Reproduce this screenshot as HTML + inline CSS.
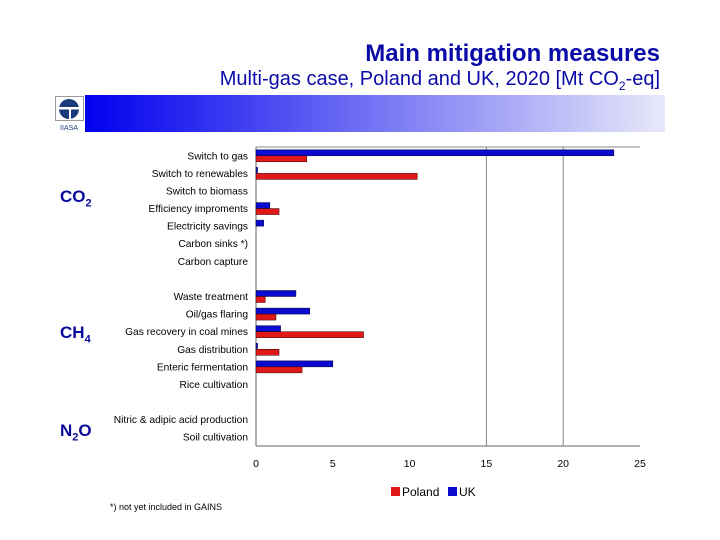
<!DOCTYPE html>
<html><head><meta charset="utf-8"><style>
body{margin:0;background:#fff;width:720px;height:540px;position:relative;overflow:hidden;font-family:"Liberation Sans",sans-serif}
.abs{position:absolute}
.grp{font-size:17px;font-weight:bold;color:#0a0a9a}
</style></head><body>
<div class="abs" style="right:60px;top:40px;font-size:24px;font-weight:bold;color:#0a0aa8;">Main mitigation measures</div>
<div class="abs" style="right:60px;top:68px;font-size:20px;color:#0a0aa8;">Multi-gas case, Poland and UK, 2020 [Mt CO<sub style="font-size:12px">2</sub>-eq]</div>
<div class="abs" style="left:85px;top:95px;width:580px;height:37px;background:linear-gradient(to right,#0000ee,#e8e8fa)"></div>
<div class="abs" style="left:55px;top:96px;width:29px;height:36px;">
<svg width="29" height="36"><rect x="0.5" y="0.5" width="28" height="24" fill="#fff" stroke="#999"/><circle cx="14" cy="13" r="10" fill="#1a3a7a"/><rect x="3" y="11" width="22" height="2.5" fill="#fff"/><rect x="14" y="13" width="2" height="11" fill="#fff"/><text x="14" y="34" font-size="7" text-anchor="middle" fill="#1a3a7a" font-family="Liberation Sans">IIASA</text></svg></div>
<div class="abs grp" style="left:60px;top:187px;">CO<sub style="font-size:11px">2</sub></div>
<div class="abs grp" style="left:60px;top:323px;">CH<sub style="font-size:11px">4</sub></div>
<div class="abs grp" style="left:60px;top:421px;">N<sub style="font-size:11px">2</sub>O</div>
<div class="abs" style="left:110px;top:502px;font-size:9px">*) not yet included in GAINS</div>
<svg id="chart" class="abs" style="left:0;top:0" width="720" height="540"></svg>
<script>
const categories=["Switch to gas","Switch to renewables","Switch to biomass","Efficiency impr oments","Electricity savings","Carbon sinks *)","Carbon capture","","Waste treatment","Oil/gas flaring","Gas recovery in coal mines","Gas distribution","Enteric fermentation","Rice cultivation","","Nitric & adipic acid production","Soil cultivation"];
const ukValues=[23.3,0.1,0,0.9,0.5,0,0,0,2.6,3.5,1.6,0.1,5.0,0,0,0,0];
const polandValues=[3.3,10.5,0,1.5,0,0,0,0,0.6,1.3,7.0,1.5,3.0,0,0,0,0];
const xTicks=[0,5,10,15,20,25];
const gridTicks=[15,20];
const svg=document.getElementById('chart');const NS='http://www.w3.org/2000/svg';
const X0=256,X1=640,Y0=147,Y1=446,XMAX=25;
const sx=v=>X0+v/XMAX*(X1-X0);
const slot=(Y1-Y0)/categories.length;
const sy=i=>Y0+slot*(i+0.5);
function mk(t,a){const e=document.createElementNS(NS,t);for(const k in a)e.setAttribute(k,a[k]);svg.appendChild(e);return e;}
let e;
e=mk('line',{x1:X0,y1:Y0,x2:X1,y2:Y0,stroke:'#888','stroke-width':1});

gridTicks.forEach(t=>{e=mk('line',{x1:sx(t),y1:Y0,x2:sx(t),y2:Y1,stroke:'#888','stroke-width':1});
});
e=mk('line',{x1:X0,y1:Y0,x2:X0,y2:Y1,stroke:'#666','stroke-width':1});

e=mk('line',{x1:X0,y1:Y1,x2:X1,y2:Y1,stroke:'#666','stroke-width':1});

xTicks.forEach(t=>{e=mk('text',{x:sx(t),y:Y1+21,'font-size':10.5,'text-anchor':'middle','font-family':'Liberation Sans'});e.textContent=t;
});
categories.forEach((c,i)=>{
 if(c){e=mk('text',{x:X0-8,y:sy(i)+3.5,'font-size':10.2,'text-anchor':'end','font-family':'Liberation Sans'});e.textContent=c.replace('impr oments','improments');
 }
 if(ukValues[i]>0){e=mk('rect',{x:X0,y:sy(i)-6,width:sx(ukValues[i])-X0,height:6,fill:'#0b0bd0',stroke:'#000030','stroke-width':0.5});
 }
 if(polandValues[i]>0){e=mk('rect',{x:X0,y:sy(i),width:sx(polandValues[i])-X0,height:6,fill:'#e01818',stroke:'#300','stroke-width':0.5});
 }
});
e=mk('rect',{x:391,y:487,width:9,height:9,fill:'#e01818'});

e=mk('text',{x:402,y:496,'font-size':12,'font-family':'Liberation Sans'});e.textContent='Poland';

e=mk('rect',{x:448,y:487,width:9,height:9,fill:'#0b0bd0'});

e=mk('text',{x:459,y:496,'font-size':12,'font-family':'Liberation Sans'});e.textContent='UK';

</script>
</body></html>
